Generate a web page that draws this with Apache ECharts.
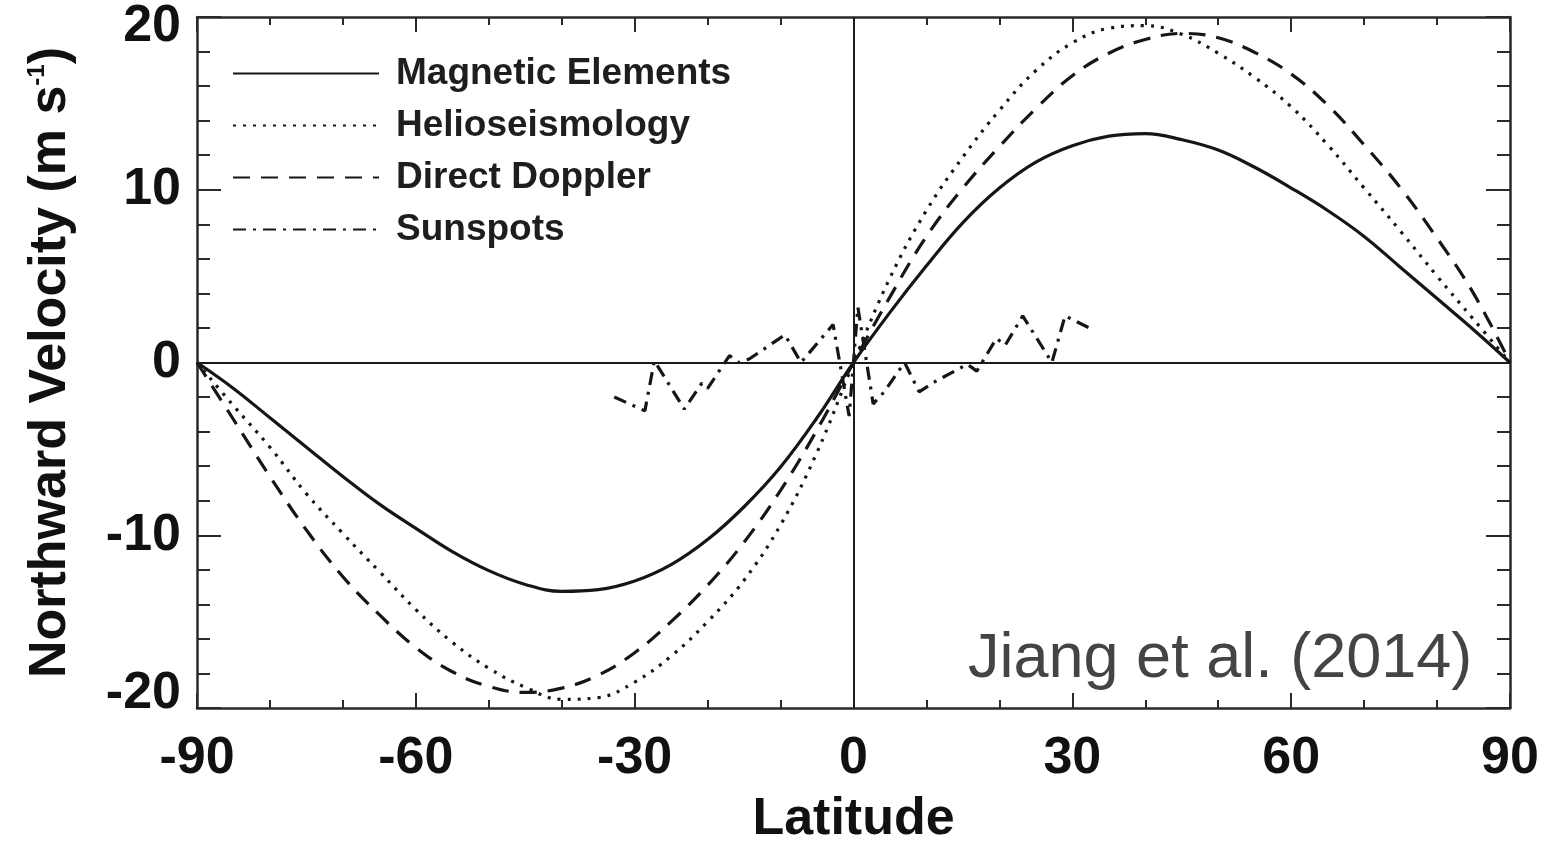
<!DOCTYPE html>
<html>
<head>
    <meta charset="utf-8">
    <title>Northward Velocity vs Latitude</title>
    <style>
        html, body { margin: 0; padding: 0; background: #fff; }
    </style>
</head>
<body>
    <div id="main" style="width: 1551px; height: 843px;"></div>
    <script src="https://cdn.jsdelivr.net/npm/echarts@6.0.0/dist/echarts.min.js"></script>
    <script type="text/javascript">
        // latitude grid for the three smooth profiles
        var lat = [-90, -85, -80, -75, -70, -65, -60, -55, -50, -45, -40, -35, -30, -25, -20, -15, -10, -5,
                   0, 5, 10, 15, 20, 25, 30, 35, 40, 45, 50, 55, 60, 65, 70, 75, 80, 85, 90];

        var magnetic = [0, -1.5, -3.2, -4.9, -6.6, -8.2, -9.6, -10.95, -12.05, -12.85, -13.25, -13.15, -12.65, -11.7, -10.25, -8.35, -6.05, -3.2,
                        0, 2.9, 5.6, 8.1, 10.1, 11.6, 12.55, 13.1, 13.25, 12.9, 12.3, 11.3, 10.1, 8.8, 7.3, 5.5, 3.7, 1.9, 0];

        var helio = [0, -2.5, -4.9, -7.6, -9.9, -12.1, -14.3, -16.2, -17.7, -18.8, -19.5, -19.4, -18.5, -17.0, -15.0, -12.6, -9.4, -5.2,
                     0, 4.9, 8.8, 11.9, 14.6, 16.9, 18.5, 19.35, 19.5, 19.0, 17.9, 16.5, 14.8, 12.6, 10.1, 7.6, 5.0, 2.5, 0];

        var doppler = [0, -3.3, -6.6, -9.7, -12.4, -14.6, -16.5, -17.9, -18.75, -19.1, -18.85, -18.1, -16.8, -15.0, -12.9, -10.4, -7.4, -3.9,
                       0, 3.8, 7.3, 10.1, 12.5, 14.7, 16.6, 17.9, 18.7, 19.05, 18.8, 17.95, 16.7, 14.9, 12.6, 10.1, 7.2, 4.0, 0];

        // sunspot zigzag (vertices)
        var spotLat = [-32.8, -28.6, -27.3, -23.2, -20.8, -20.0, -17.0, -15.8, -14.3, -9.4, -7.2, -2.8, -0.6, 0.6,
                       2.7, 4.2, 7.0, 9.0, 11.2, 15.6, 16.9, 19.6, 20.8, 23.2, 27.2, 29.0, 32.8];
        var spotVel = [-2.0, -2.8, 0.1, -2.7, -1.2, -1.5, 0.4, 0.0, 0.2, 1.6, 0.0, 2.2, -3.1, 3.2,
                       -2.4, -1.7, 0.0, -1.7, -1.1, -0.1, -0.5, 1.4, 1.0, 2.7, 0.0, 2.7, 1.9];

        var names = ['Magnetic Elements', 'Helioseismology', 'Direct Doppler', 'Sunspots'];
        var xTicks = [-90, -60, -30, 0, 30, 60, 90];

        function pairs(xs, ys) {
            return xs.map(function (x, i) { return [x, ys[i]]; });
        }

        var ink = '#161616';
        var axisColor = '#2a2a2a';
        var labelFont = 'Liberation Sans, Arial, Helvetica, sans-serif';

        var chartDom = document.getElementById('main');
        var myChart = echarts.init(chartDom);
        var option;

        function makeX(pos, showLabel) {
            return {
                type: 'value', position: pos, min: -90, max: 90, interval: 30,
                axisLine: { show: true, onZero: false, lineStyle: { color: axisColor, width: 2.5 } },
                axisTick: { show: true, inside: true, length: 15, lineStyle: { color: axisColor, width: 2 } },
                minorTick: { show: true, splitNumber: 3, length: 8, lineStyle: { color: axisColor, width: 2 } },
                splitLine: { show: false },
                axisLabel: {
                    show: showLabel, margin: 25, color: '#111',
                    fontFamily: labelFont, fontWeight: 'bold', fontSize: 52,
                    formatter: function (v) { return xTicks.indexOf(v) >= 0 ? String(v) : ''; }
                },
                name: showLabel ? 'Latitude' : '',
                nameLocation: 'middle', nameGap: 86,
                nameTextStyle: { color: '#111', fontFamily: labelFont, fontWeight: 'bold', fontSize: 52 }
            };
        }

        function makeY(pos, showLabel) {
            return {
                type: 'value', position: pos, min: -20, max: 20, interval: 10,
                axisLine: { show: true, onZero: false, lineStyle: { color: axisColor, width: 2.5 } },
                axisTick: { show: true, inside: true, length: 24, lineStyle: { color: axisColor, width: 2 } },
                minorTick: { show: true, splitNumber: 5, length: 13, lineStyle: { color: axisColor, width: 2 } },
                splitLine: { show: false },
                axisLabel: {
                    show: showLabel, margin: 16, color: '#111',
                    fontFamily: labelFont, fontWeight: 'bold', fontSize: 52,
                    formatter: function (v) {
                        if (v === 20) return '{top|20}';
                        if (v === -20) return '{bot|-20}';
                        return String(v);
                    },
                    rich: {
                        top: { fontFamily: labelFont, fontWeight: 'bold', fontSize: 52, color: '#111', padding: [20, 0, 0, 0] },
                        bot: { fontFamily: labelFont, fontWeight: 'bold', fontSize: 52, color: '#111', padding: [0, 0, 28, 0] }
                    }
                },
                name: showLabel ? '{a|Northward Velocity (m s}{s|-1}{a|)}' : '',
                nameLocation: 'middle', nameGap: 120, nameRotate: 90,
                nameTextStyle: {
                    rich: {
                        a: { color: '#111', fontFamily: labelFont, fontWeight: 'bold', fontSize: 52 },
                        s: { color: '#111', fontFamily: labelFont, fontWeight: 'bold', fontSize: 24, verticalAlign: 'top', padding: [0, 0, 18, 0] }
                    }
                }
            };
        }

        option = {
            backgroundColor: '#fff',
            animation: false,
            grid: { left: 197, top: 17, width: 1313, height: 691, containLabel: false, outerBoundsMode: 'none' },
            legend: {
                data: names,
                orient: 'vertical',
                left: 232, top: 55, padding: 0,
                itemWidth: 146, itemHeight: 18, itemGap: 15,
                itemStyle: { opacity: 0, borderWidth: 0 },
                textStyle: { color: '#1e1e1e', fontFamily: labelFont, fontWeight: 'bold', fontSize: 37, padding: [0, 0, 0, 12] }
            },
            xAxis: [makeX('bottom', true), makeX('top', false)],
            yAxis: [makeY('left', true), makeY('right', false)],
            series: [
                {
                    name: names[0], type: 'line', data: pairs(lat, magnetic),
                    smooth: 0.4, symbol: 'none',
                    lineStyle: { color: ink, width: 3.2, type: 'solid' },
                    itemStyle: { color: ink },
                    markLine: {
                        silent: true, symbol: ['none', 'none'], label: { show: false },
                        lineStyle: { color: '#1a1a1a', width: 2, type: 'solid' },
                        data: [{ yAxis: 0 }, { xAxis: 0 }]
                    }
                },
                {
                    name: names[1], type: 'line', data: pairs(lat, helio),
                    smooth: 0.4, symbol: 'none',
                    lineStyle: { color: ink, width: 3.2, type: [3, 7] },
                    itemStyle: { color: ink }
                },
                {
                    name: names[2], type: 'line', data: pairs(lat, doppler),
                    smooth: 0.4, symbol: 'none',
                    lineStyle: { color: ink, width: 3.2, type: [17, 11] },
                    itemStyle: { color: ink }
                },
                {
                    name: names[3], type: 'line', data: pairs(spotLat, spotVel),
                    smooth: false, symbol: 'none',
                    lineStyle: { color: ink, width: 3.2, type: [13, 7, 3, 7] },
                    itemStyle: { color: ink }
                }
            ],
            graphic: [
                {
                    type: 'text', left: 968, top: 628, silent: true,
                    style: {
                        text: 'Jiang et al. (2014)', fill: '#444',
                        font: 'normal 63px Liberation Sans, Arial, Helvetica, sans-serif'
                    }
                }
            ]
        };

        option && myChart.setOption(option);
    </script>
</body>
</html>
